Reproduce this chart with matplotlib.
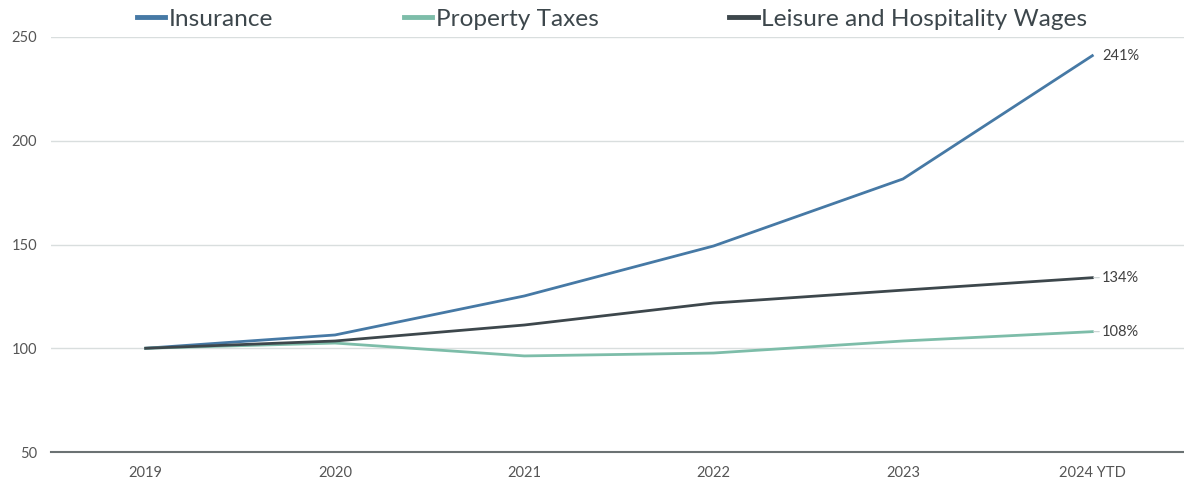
import matplotlib.pyplot as plt
import numpy as np

# data
years = ["2019", "2020", "2021", "2022", "2023", "2024 YTD"]
insurance = [100, 106.4, 125.2, 149.3, 181.6, 241]
property_taxes = [100, 102.5, 96.3, 97.7, 103.5, 108]
leisure_wages = [100, 103.5, 111.2, 121.8, 128, 134]
end_labels = ["241%", "108%", "134%"]

plt.rcParams['font.family'] = ['Lato', 'DejaVu Sans']

fig = plt.figure(figsize=(11.84, 4.79), dpi=100)
ax = fig.add_axes([51 / 1184, 27 / 479, 1136 / 1184, 415 / 479])

x = np.arange(len(years))
c_ins = "#4679a5"
c_tax = "#7dbda9"
c_lei = "#3d474c"

ax.plot(x, insurance, color=c_ins, lw=2, label="Insurance", zorder=3)
ax.plot(x, property_taxes, color=c_tax, lw=2, label="Property Taxes", zorder=3)
ax.plot(x, leisure_wages, color=c_lei, lw=2, label="Leisure and Hospitality Wages", zorder=3)

# end-of-line labels, small leader line for the lower two
series = [insurance, property_taxes, leisure_wages]
for i, (vals, lab) in enumerate(zip(series, end_labels)):
    arrow = None if i == 0 else dict(arrowstyle="-", color="#c8d0d0", lw=0.8,
                                     shrinkA=0, shrinkB=1)
    ax.annotate(lab, xy=(x[-1], vals[-1]), xytext=(7, 0), textcoords="offset points",
                va="center", ha="left", fontsize=10.5, color="#404040",
                arrowprops=arrow)

ax.set_xlim(-0.5, len(years) - 0.5)
ax.set_ylim(50, 250)
ax.set_yticks([50, 100, 150, 200, 250])
ax.set_xticks(x)
ax.set_xticklabels(years)
ax.grid(axis="y", color="#d9dede", lw=1)
ax.set_axisbelow(True)
for s in ["top", "right", "left"]:
    ax.spines[s].set_visible(False)
ax.spines["bottom"].set_color("#6b7273")
ax.spines["bottom"].set_linewidth(1.5)
ax.tick_params(axis="both", length=0, labelsize=10.5, colors="#555555")
ax.tick_params(axis="x", pad=10)
ax.tick_params(axis="y", pad=10)

leg = fig.legend(loc="center left", bbox_to_anchor=(115 / 1184, 1 - 19 / 479), ncol=3,
                 frameon=False, fontsize=17.6, handlelength=1.15, handletextpad=0.15,
                 columnspacing=5.35, labelcolor="#3d474c")
for h in leg.get_lines():
    h.set_linewidth(3.5)

fig.savefig("out.png", dpi=100)
